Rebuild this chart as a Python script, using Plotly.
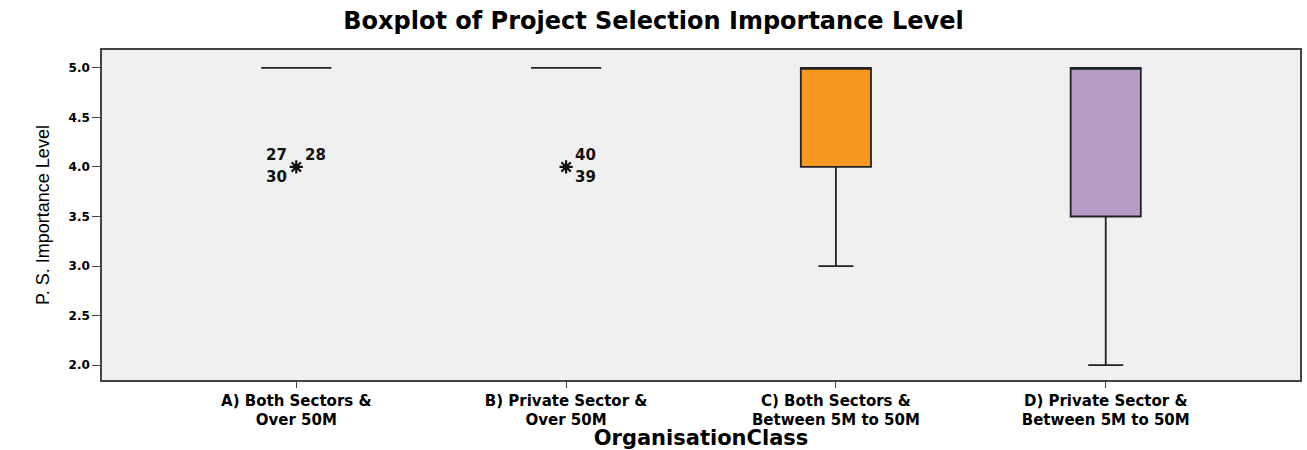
import plotly.graph_objects as go

categories = ["A) Both Sectors &<br>Over 50M", "B) Private Sector &<br>Over 50M",
              "C) Both Sectors &<br>Between 5M to 50M", "D) Private Sector &<br>Between 5M to 50M"]
q1 = [5.0, 5.0, 4.0, 3.5]
median = [5.0, 5.0, 5.0, 5.0]
q3 = [5.0, 5.0, 5.0, 5.0]
lower = [5.0, 5.0, 3.0, 2.0]
upper = [5.0, 5.0, 5.0, 5.0]
fills = ["#F0F0F0", "#F0F0F0", "#F7991F", "#B69BC7"]

# outliers: (category index, value, case labels [(label, dx px, dy px)])
outlier_cat = [0, 1]
outlier_val = [4.0, 4.0]
outlier_labels = [
    [("27", -20, 12), ("28", 19, 12), ("30", -20, -10)],
    [("40", 19, 12), ("39", 19, -10)],
]

BOLD = "DejaVu Sans"

fig = go.Figure()
for i, c in enumerate(categories):
    fig.add_trace(go.Box(
        x=[c], q1=[q1[i]], median=[median[i]], q3=[q3[i]],
        lowerfence=[lower[i]], upperfence=[upper[i]],
        width=0.26, whiskerwidth=0.5, boxpoints=False,
        fillcolor=fills[i], line=dict(color="#222222", width=1.8),
        showlegend=False, hoverinfo="skip"))

fig.add_trace(go.Scatter(
    x=[categories[k] for k in outlier_cat], y=outlier_val, mode="markers",
    marker=dict(symbol="asterisk-open", size=11, color="#111111",
                line=dict(color="#111111", width=2.2)),
    showlegend=False, hoverinfo="skip"))

annotations = []
for k, v, labs in zip(outlier_cat, outlier_val, outlier_labels):
    for lab, dx, dy in labs:
        annotations.append(dict(x=categories[k], y=v, text="<b>" + lab + "</b>", showarrow=False,
                                xshift=dx, yshift=dy,
                                font=dict(family=BOLD, size=15, color="#111111")))

fig.update_layout(
    width=1307, height=450,
    margin=dict(l=102, r=7, t=50, b=70),
    paper_bgcolor="white", plot_bgcolor="#F0F0F0",
    title=dict(text="<b>Boxplot of Project Selection Importance Level</b>",
               x=0.5, xanchor="center", y=0.955, yanchor="middle",
               font=dict(family=BOLD, size=24, color="#000000")),
    annotations=annotations,
    font=dict(family="Liberation Sans", color="#000000"),
)
fig.update_xaxes(
    range=[-0.72, 3.72], showgrid=False, zeroline=False, automargin=False,
    showline=True, linecolor="#444444", linewidth=1.5, mirror=True,
    ticks="outside", ticklen=6, tickcolor="#444444",
    tickfont=dict(family=BOLD, size=15, color="#000000"),
    tickvals=categories, ticktext=["<b>" + c.replace("<br>", "</b><br><b>") + "</b>" for c in categories],
    title=dict(text="<b>OrganisationClass</b>", standoff=4,
               font=dict(family=BOLD, size=21, color="#000000")),
)
fig.update_yaxes(
    range=[1.85, 5.18], showgrid=False, zeroline=False, automargin=False,
    showline=True, linecolor="#444444", linewidth=1.5, mirror=True,
    ticks="outside", ticklen=8, tickcolor="#444444",
    tickvals=[2.0, 2.5, 3.0, 3.5, 4.0, 4.5, 5.0],
    ticktext=["<b>%.1f</b>" % v for v in [2.0, 2.5, 3.0, 3.5, 4.0, 4.5, 5.0]],
    tickfont=dict(family=BOLD, size=12, color="#000000"),
    title=dict(text="P. S. Importance Level", standoff=14,
               font=dict(family="Liberation Sans", size=18, color="#000000")),
)

fig.write_html("out.html")
